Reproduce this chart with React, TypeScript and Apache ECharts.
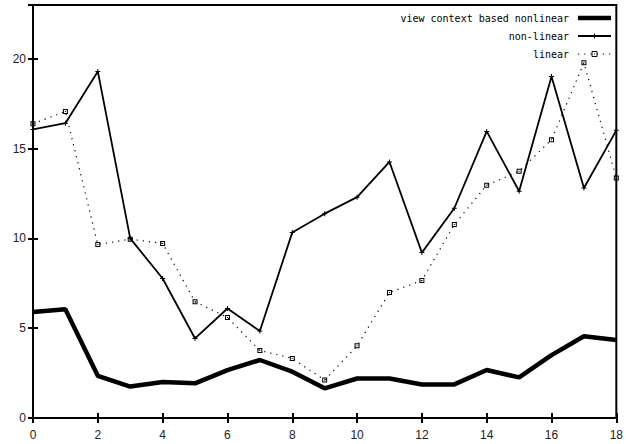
import React, { useEffect, useRef } from "react";
import * as echarts from "echarts";

const xValues = [0, 1, 2, 3, 4, 5, 6, 7, 8, 9, 10, 11, 12, 13, 14, 15, 16, 17, 18];
const viewContext = [5.9, 6.05, 2.35, 1.75, 2.0, 1.93, 2.67, 3.23, 2.58, 1.65, 2.2, 2.2, 1.87, 1.87, 2.67, 2.26, 3.5, 4.55, 4.34];
const nonLinear = [16.07, 16.42, 19.3, 10.0, 7.77, 4.43, 6.1, 4.84, 10.33, 11.38, 12.3, 14.26, 9.21, 11.68, 15.96, 12.63, 19.02, 12.81, 16.02];
const linear = [16.39, 17.07, 9.66, 9.96, 9.72, 6.47, 5.6, 3.76, 3.32, 2.11, 4.02, 6.99, 7.66, 10.77, 12.96, 13.74, 15.5, 19.78, 13.36];
const seriesNames = ["view context based nonlinear", "non-linear", "linear"];

const pair = (ys: number[]) => xValues.map((x, i) => [x, ys[i]]);

const PLUS = "path://M0,2H5V3H0Z M2,0H3V5H2Z";
const BOX = "path://M0,0H5V5H0Z M1,1V4H4V1Z M2,2H3V3H2Z";

export default function App() {
  const ref = useRef<HTMLDivElement>(null);
  useEffect(() => {
    if (!ref.current) return;
    const chart = echarts.init(ref.current, null, { renderer: "svg" });
    const labelStyle = {
      color: "#222",
      fontFamily: "Liberation Sans, Arial, sans-serif",
      fontSize: 12,
    };
    const legendFont = {
      fontFamily: "DejaVu Sans Mono, monospace",
      fontSize: 10,
      fill: "#000",
      textAlign: "right",
      textVerticalAlign: "middle",
    };
    const tick = { color: "#000", width: 2 };
    const rowY = [18, 36, 54];
    const lx0 = 578;
    const lx1 = 611;
    const lxm = 594.5;
    chart.setOption({
      animation: false,
      backgroundColor: "#fff",
      grid: {
        left: 33,
        right: 5,
        top: 5,
        bottom: 26,
        show: true,
        borderColor: "#000",
        borderWidth: 2,
        backgroundColor: "transparent",
      },
      xAxis: [
        {
          type: "value",
          min: 0,
          max: 18,
          interval: 2,
          position: "bottom",
          axisLine: { show: false },
          axisTick: { show: true, inside: true, length: 5, lineStyle: tick },
          axisLabel: { ...labelStyle, margin: 11 },
          splitLine: { show: false },
        },
        {
          type: "value",
          min: 0,
          max: 18,
          interval: 2,
          position: "top",
          axisLine: { show: false },
          axisTick: { show: true, inside: true, length: 5, lineStyle: tick },
          axisLabel: { show: false },
          splitLine: { show: false },
        },
      ],
      yAxis: [
        {
          type: "value",
          min: 0,
          max: 23,
          interval: 5,
          position: "left",
          axisLine: { show: false },
          axisTick: { show: true, inside: true, length: 5, lineStyle: tick },
          axisLabel: {
            ...labelStyle,
            margin: 7,
            formatter: (v: number) => (v % 5 === 0 ? String(v) : ""),
          },
          splitLine: { show: false },
        },
        {
          type: "value",
          min: 0,
          max: 23,
          interval: 5,
          position: "right",
          axisLine: { show: false },
          axisTick: { show: true, inside: true, length: 5, lineStyle: tick },
          axisLabel: { show: false },
          splitLine: { show: false },
        },
      ],
      graphic: [
        { type: "text", x: 569, y: rowY[0], style: { ...legendFont, text: seriesNames[0] } },
        { type: "text", x: 569, y: rowY[1], style: { ...legendFont, text: seriesNames[1] } },
        { type: "text", x: 569, y: rowY[2], style: { ...legendFont, text: seriesNames[2] } },
        {
          type: "line",
          shape: { x1: lx0, y1: rowY[0], x2: lx1, y2: rowY[0] },
          style: { stroke: "#000", lineWidth: 4.5 },
        },
        {
          type: "line",
          shape: { x1: lx0, y1: rowY[1], x2: lx1, y2: rowY[1] },
          style: { stroke: "#000", lineWidth: 1.8 },
        },
        {
          type: "line",
          shape: { x1: lxm, y1: rowY[1] - 2.5, x2: lxm, y2: rowY[1] + 2.5 },
          style: { stroke: "#000", lineWidth: 1 },
        },
        {
          type: "line",
          shape: { x1: lx0, y1: rowY[2], x2: lx1, y2: rowY[2] },
          style: { stroke: "#000", lineWidth: 1.2, lineDash: [1.2, 5] },
        },
        {
          type: "rect",
          shape: { x: lxm - 2.5, y: rowY[2] - 2.5, width: 5, height: 5 },
          style: { stroke: "#000", fill: "#fff", lineWidth: 1 },
        },
        {
          type: "rect",
          shape: { x: lxm - 0.5, y: rowY[2] - 0.5, width: 1, height: 1 },
          style: { fill: "#000" },
        },
      ],
      series: [
        {
          name: seriesNames[0],
          type: "line",
          data: pair(viewContext),
          showSymbol: false,
          symbol: "none",
          lineStyle: { color: "#000", width: 4.5 },
          itemStyle: { color: "#000" },
        },
        {
          name: seriesNames[1],
          type: "line",
          data: pair(nonLinear),
          symbol: PLUS,
          symbolSize: 5,
          lineStyle: { color: "#000", width: 1.8 },
          itemStyle: { color: "#000" },
        },
        {
          name: seriesNames[2],
          type: "line",
          data: pair(linear),
          symbol: BOX,
          symbolSize: 5,
          lineStyle: { color: "#000", width: 1.2, type: [1.2, 5] },
          itemStyle: { color: "#000" },
        },
      ],
    });
    return () => chart.dispose();
  }, []);
  return (
    <div
      ref={ref}
      style={{ position: "fixed", left: 0, top: 0, width: 626, height: 444, background: "#fff" }}
    />
  );
}
